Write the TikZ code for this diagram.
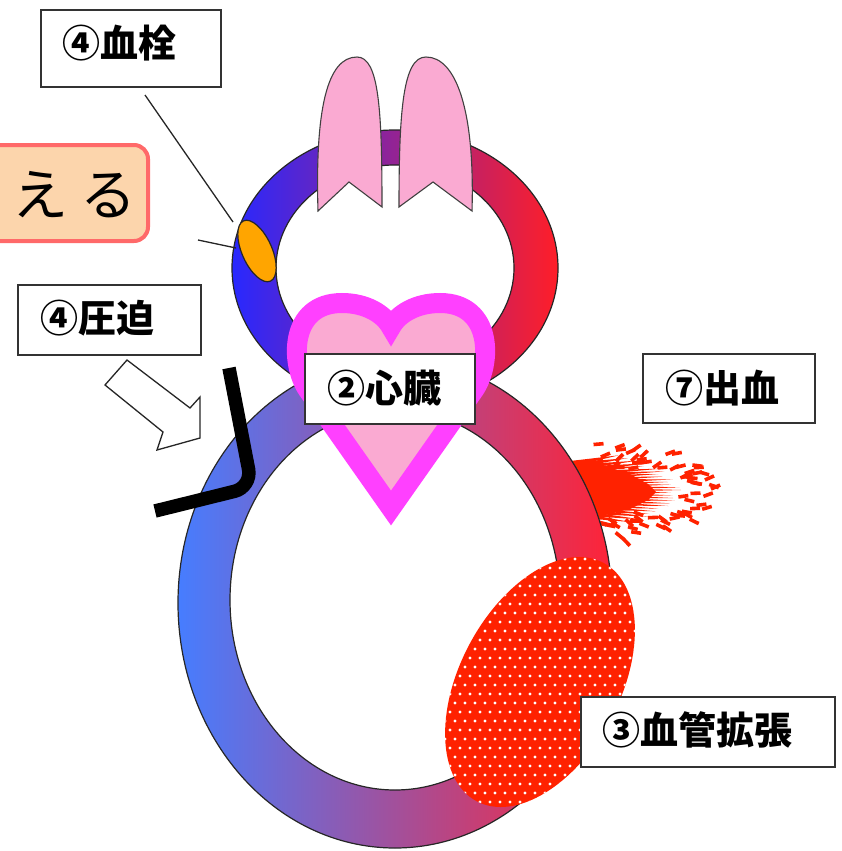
\documentclass[tikz,border=0pt]{standalone}
\usepackage{fontspec}
\newfontfamily\jp{Noto Sans CJK JP}
\definecolor{lungpink}{RGB}{250,170,210}
\definecolor{heartmag}{RGB}{255,64,255}
\definecolor{bleed}{RGB}{255,34,0}
\definecolor{clotorange}{RGB}{255,165,0}
\definecolor{peach}{RGB}{252,213,172}
\definecolor{salmon}{RGB}{255,105,105}
\definecolor{ublue}{RGB}{40,40,255}
\definecolor{upurple}{RGB}{185,50,205}
\definecolor{ured}{RGB}{255,30,40}
\definecolor{lblue}{RGB}{70,125,255}
\definecolor{lpurple}{RGB}{170,105,220}
\definecolor{lred}{RGB}{255,35,55}
\begin{document}
\begin{tikzpicture}[x=1pt,y=-1pt,
  outline/.style={draw=black!85, line width=1.2pt},
  labelbox/.style={draw=black!80, line width=2.2pt, fill=white, inner sep=0pt},
  labeltext/.style={inner sep=0pt, anchor=west, font=\jp\bfseries\fontsize{38}{40}\selectfont},
  lungshape/.style={fill=lungpink, draw=black!75, line width=1.1pt},
  spray/.style={draw=bleed, line width=3.6pt},
  leader/.style={draw=black!85, line width=1.3pt},
]
\useasboundingbox (0,0) rectangle (841,851);

% pulmonary loop
\path[shade, even odd rule, left color=ublue, middle color=upurple, right color=ured]
  (395,268) ellipse [x radius=163, y radius=138]
  (395,268) ellipse [x radius=119, y radius=103];
\draw[outline] (395,268) ellipse [x radius=163, y radius=138];
\draw[outline] (395,268) ellipse [x radius=119, y radius=103];

% bleeding spray: solid jet with jagged tips, then scattered droplets
\coordinate (bleedsrc) at (578,492);
\fill[bleed] (570,462) -- (605,466) -- (630,474) -- (648,484) -- (656,492)
  -- (648,500) -- (630,509) -- (605,515) -- (570,519) -- cycle;
\pgfmathsetseed{12}
\foreach \k in {0,...,26} {
  \pgfmathsetmacro\yb{464+2*\k}
  \pgfmathsetmacro\dv{(\yb-490)/27}
  \pgfmathsetmacro\len{25+60*(1-\dv*\dv)+12*rnd}
  \fill[bleed] (570,{\yb-3}) -- ({585+\len},{\yb+9*\dv}) -- (570,{\yb+3}) -- cycle;
}
\pgfmathsetseed{5}
\foreach \k in {1,...,70} {
  \pgfmathsetmacro\ph{-85+170*rnd}
  \pgfmathsetmacro\rr{abs(\ph)<32 ? 0.74+0.26*rnd : 0.5+0.5*rnd}
  \pgfmathsetmacro\px{136*\rr*cos(\ph)}
  \pgfmathsetmacro\py{54*\rr*sin(\ph)}
  \pgfmathsetmacro\dd{0.35*\ph+50*rnd-25}
  \draw[spray, shift={(bleedsrc)}] (\px,\py) -- ++(\dd:10);
}

% systemic loop
\path[shade, even odd rule, left color=lblue, middle color=lpurple, right color=lred]
  (395,603) ellipse [x radius=217, y radius=245]
  (395,600) ellipse [x radius=165, y radius=190];
\draw[outline] (395,603) ellipse [x radius=217, y radius=245];
\draw[outline] (395,600) ellipse [x radius=165, y radius=190];

% dilated vessel (dotted red)
\begin{scope}
  \clip[rotate around={-28:(540,682)}] (540,682) ellipse [x radius=80, y radius=135];
  \fill[bleed] (430,530) rectangle (660,840);
  \foreach \r in {0,...,34} \foreach \c in {0,...,23}
    \fill[white] ({430+10*\c+5*mod(\r,2)},{532+9*\r}) circle (1.6);
\end{scope}

% lungs
\path[lungshape] (318,211) .. controls (315,110) and (327,57) .. (357,57)
  .. controls (379,57) and (382,110) .. (382,207) -- (349,182) -- cycle;
\path[lungshape] (399,207) .. controls (399,110) and (403,57) .. (426,57)
  .. controls (456,57) and (475,110) .. (472,211) -- (433,182) -- cycle;

% thrombus
\coordinate (clot) at (257,251);
\filldraw[fill=clotorange, draw=black!85, line width=1.2pt, rotate around={24:(clot)}]
  (clot) ellipse [x radius=15, y radius=33];

% heart
\filldraw[fill=lungpink, draw=heartmag, line width=20pt, line join=miter]
  (391,508) -- (308,390) .. controls (290,364) and (289,303) .. (342,303)
  .. controls (366,303) and (384,314) .. (391,327)
  .. controls (398,314) and (416,303) .. (440,303)
  .. controls (493,303) and (492,364) .. (474,390) -- cycle;

% compression: arrow and pressing bar
\draw[fill=white, draw=black!85, line width=1.3pt, line join=miter]
  (127,360) -- (190,408) -- (200,397) -- (200,438) -- (157,450) -- (163,432) -- (105,385) -- cycle;
\draw[line width=13.5pt, rounded corners=18pt] (229,368) -- (252,487) -- (155,511);

% labels
\node[labelbox, minimum width=180, minimum height=77] (bclot) at (131,48.5) {};
\node[labeltext] (tclot) at (62,43) {④血栓};
\node[labelbox, minimum width=183, minimum height=70] (bpress) at (109.5,320) {};
\node[labeltext] (tpress) at (40,318) {④圧迫};
\node[labelbox, minimum width=170, minimum height=70] (bheart) at (390,389) {};
\node[labeltext] (theart) at (327,388) {②心臓};
\node[labelbox, minimum width=172, minimum height=69] (bbleed) at (729,388.5) {};
\node[labeltext] (tbleed) at (665,388) {⑦出血};
\node[labelbox, minimum width=254, minimum height=70] (bdil) at (708,732) {};
\node[labeltext] (tdil) at (602,730) {③血管拡張};

% leader lines to the thrombus
\coordinate (lead1) at (145,95);
\coordinate (lead2) at (198,240);
\coordinate (clottop) at (233,222);
\coordinate (clotleft) at (236,248);
\draw[leader] (lead1) -- (clottop);
\draw[leader] (lead2) -- (clotleft);

% title tab
\node[draw=salmon, line width=4pt, fill=peach, rounded corners=14pt,
      minimum width=200, minimum height=96] (tab) at (48,193) {};
\node[inner sep=0pt, anchor=west, font=\jp\fontsize{56}{60}\selectfont] (tabtext) at (12,195) {え\hspace{12pt}る};
\end{tikzpicture}
\end{document}
